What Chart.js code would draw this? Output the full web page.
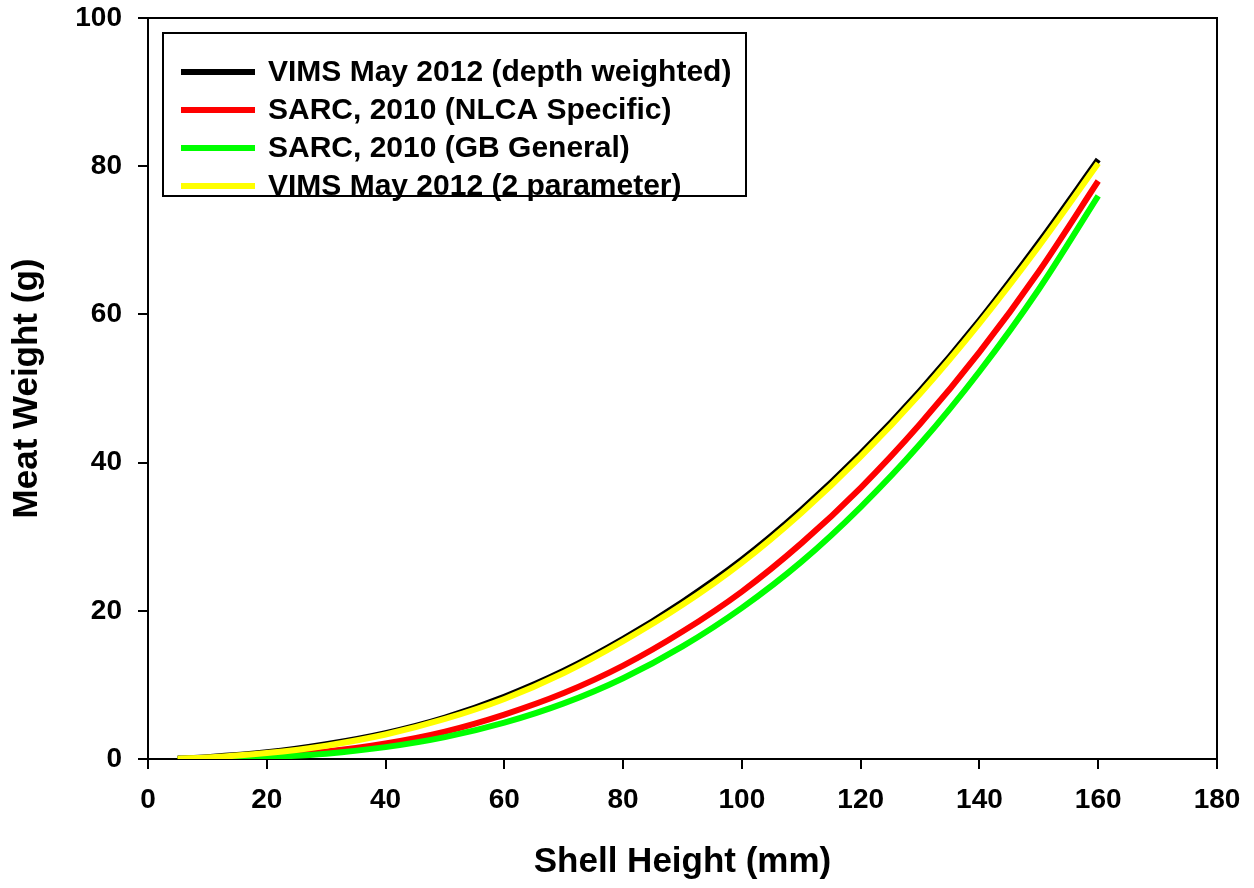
<!DOCTYPE html>
<html><head><meta charset="utf-8">
<script src="https://cdn.jsdelivr.net/npm/chart.js@4.4.1/dist/chart.umd.min.js"></script>
<style>html,body{margin:0;padding:0;background:#fff;}#wrap{width:1254px;height:888px;}</style>
</head><body><div id="wrap"><canvas id="c" width="1254" height="888"></canvas></div>
<script>
const shellHeight = [5, 10, 20, 30, 40, 50, 60, 70, 80, 90, 100, 110, 120, 130, 140, 150, 160];
const vimsDepthWeighted = [0.06, 0.25, 0.9, 2.0, 3.5, 5.6, 8.4, 11.9, 16.2, 21.2, 26.9, 33.6, 41.2, 49.7, 59.2, 69.7, 80.9];
const sarcNLCA = [0.01, 0.06, 0.35, 1.0, 2.1, 3.7, 6.0, 8.9, 12.6, 17.2, 22.6, 29.1, 36.6, 45.2, 54.9, 65.8, 78.0];
const sarcGB = [0.01, 0.04, 0.25, 0.72, 1.6, 2.95, 4.9, 7.5, 10.9, 15.2, 20.4, 26.6, 34.0, 42.5, 52.3, 63.4, 76.0];
const vims2Param = [0.05, 0.2, 0.8, 1.8, 3.3, 5.4, 8.1, 11.6, 15.9, 20.8, 26.5, 33.2, 40.8, 49.3, 58.8, 69.2, 80.4];
const seriesLabels = ['VIMS May 2012 (depth weighted)', 'SARC, 2010 (NLCA Specific)', 'SARC, 2010 (GB General)', 'VIMS May 2012 (2 parameter)'];
const seriesColors = ['#000000', '#ff0000', '#00ff00', '#ffff00'];
const xTitle = 'Shell Height (mm)';
const yTitle = 'Meat Weight (g)';

const FONT = '"Liberation Sans", Arial, sans-serif';
const toPts = (ys) => shellHeight.map((x, i) => ({x: x, y: ys[i]}));
const seriesValues = [vimsDepthWeighted, sarcNLCA, sarcGB, vims2Param];
const drawOrder = [3, 2, 1, 0];

const datasets = seriesValues.map((vals, i) => ({
  label: seriesLabels[i],
  data: toPts(vals),
  borderColor: seriesColors[i],
  backgroundColor: seriesColors[i],
  borderWidth: 6,
  pointRadius: 0,
  fill: false,
  cubicInterpolationMode: 'monotone',
  order: drawOrder[i],
  borderCapStyle: 'butt'
}));

const bgPlugin = {
  id: 'bg',
  beforeDraw(chart) {
    const ctx = chart.ctx;
    ctx.save();
    ctx.fillStyle = '#fff';
    ctx.fillRect(0, 0, chart.width, chart.height);
    ctx.restore();
  }
};

const framePlugin = {
  id: 'frame',
  afterDraw(chart) {
    const {ctx, chartArea: a} = chart;
    ctx.save();
    ctx.strokeStyle = '#000';
    ctx.lineWidth = 2;
    ctx.beginPath();
    ctx.moveTo(a.left, a.top);
    ctx.lineTo(a.right, a.top);
    ctx.lineTo(a.right, a.bottom);
    ctx.stroke();
    ctx.restore();
  }
};

const boxLegendPlugin = {
  id: 'boxLegend',
  afterDraw(chart) {
    const {ctx, chartArea: a} = chart;
    const left = a.left + 15, top = a.top + 15, w = 583, h = 163;
    ctx.save();
    ctx.fillStyle = '#fff';
    ctx.fillRect(left, top, w, h);
    ctx.strokeStyle = '#000';
    ctx.lineWidth = 2;
    ctx.strokeRect(left, top, w, h);
    ctx.font = 'bold 30px ' + FONT;
    ctx.textBaseline = 'middle';
    ctx.textAlign = 'left';
    chart.data.datasets.forEach((ds, i) => {
      const y = top + 39 + i * 38;
      ctx.strokeStyle = ds.borderColor;
      ctx.lineWidth = 6;
      ctx.beginPath();
      ctx.moveTo(left + 18, y);
      ctx.lineTo(left + 92, y);
      ctx.stroke();
      ctx.fillStyle = '#000';
      ctx.fillText(ds.label, left + 105, y + 1);
    });
    ctx.restore();
  }
};

new Chart(document.getElementById('c'), {
  type: 'line',
  data: {datasets: datasets},
  options: {
    responsive: false,
    animation: false,
    devicePixelRatio: 1,
    layout: {padding: {left: 0, top: 18, right: 37, bottom: 0}},
    plugins: {legend: {display: false}, tooltip: {enabled: false}},
    scales: {
      x: {
        type: 'linear', min: 0, max: 180,
        ticks: {stepSize: 20, color: '#000', padding: 14, font: {family: FONT, size: 28, weight: 'bold'}, maxRotation: 0},
        grid: {display: true, drawOnChartArea: false, drawTicks: true, tickLength: 10, color: '#000', lineWidth: 2},
        border: {display: true, color: '#000', width: 2},
        title: {display: true, text: xTitle, color: '#000', font: {family: FONT, size: 35, weight: 'bold'}, padding: {top: 0, bottom: 5}},
        afterFit(s) { s.height = 129; s.paddingLeft = 0; s.paddingRight = 0; }
      },
      y: {
        type: 'linear', min: 0, max: 100,
        ticks: {stepSize: 20, color: '#000', padding: 16, font: {family: FONT, size: 28, weight: 'bold'}},
        grid: {display: true, drawOnChartArea: false, drawTicks: true, tickLength: 10, color: '#000', lineWidth: 2},
        border: {display: true, color: '#000', width: 2},
        title: {display: true, text: yTitle, color: '#000', font: {family: FONT, size: 35, weight: 'bold'}, padding: {top: 6, bottom: 0}},
        afterFit(s) { s.width = 148; s.paddingTop = 0; s.paddingBottom = 0; }
      }
    }
  },
  plugins: [bgPlugin, framePlugin, boxLegendPlugin]
});
</script>
</body></html>
